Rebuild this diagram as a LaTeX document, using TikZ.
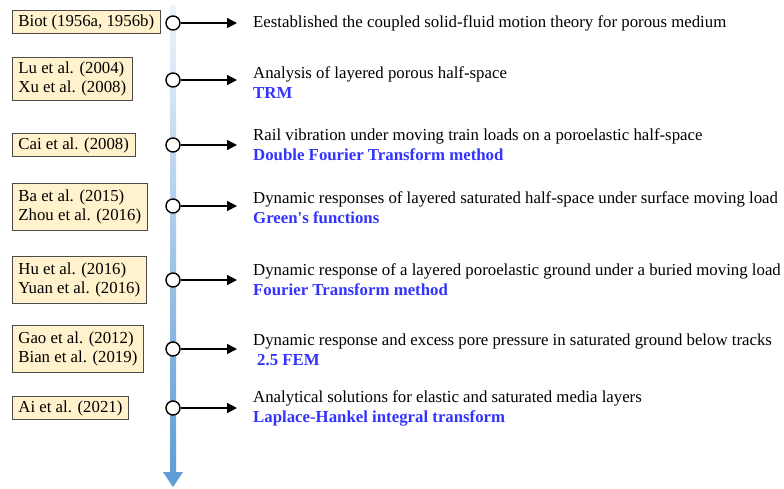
\documentclass[tikz,border=0pt]{standalone}
\usepackage{fontspec}
\setmainfont{Liberation Serif}
\newfontfamily\rawserif{Liberation Serif}
\usetikzlibrary{arrows.meta}
\definecolor{boxfill}{HTML}{FFF2CC}
\definecolor{methblue}{RGB}{51,51,255}
\definecolor{axtop}{HTML}{EEF4FB}
\definecolor{axbot}{HTML}{5B9BD5}
\begin{document}
\begin{tikzpicture}[x=1pt,y=-1pt,
  refbox/.style={draw=black!70, fill=boxfill, line width=0.8pt, anchor=west, align=left,
    inner xsep=6pt, inner ysep=4pt, font=\fontsize{16.8}{19.5}\selectfont},
  dot/.style={circle, draw=black, fill=white, line width=1.4pt, minimum size=14pt, inner sep=0pt},
  desc/.style={anchor=west, align=left, inner sep=0pt, font=\fontsize{16.8}{20}\selectfont},
  link/.style={-{Triangle[length=10pt,width=10pt]}, line width=1.4pt, shorten >=16pt}]
\useasboundingbox (0,0) rectangle (784,488);
% timeline axis
\shade[top color=axtop, bottom color=axbot]
  (170,5) -- (176,5) -- (176,472) -- (183,472) -- (173,487) -- (163,472) -- (170,472) -- cycle;

% reference boxes
\node[refbox] (b1) at (12,22) {Biot (1956a, 1956b)};
\node[refbox, minimum height=42pt] (b2) at (12,79) {Lu et al. (2004)\\Xu et al. (2008)};
\node[refbox] (b3) at (12,145) {Cai et al. (2008)};
\node[refbox, minimum height=47pt] (b4) at (12,207) {Ba et al. (2015)\\Zhou et al. (2016)};
\node[refbox, minimum height=47pt] (b5) at (12,280) {Hu et al. (2016)\\Yuan et al. (2016)};
\node[refbox, minimum height=47pt] (b6) at (12,349) {Gao et al. (2012)\\Bian et al. (2019)};
\node[refbox] (b7) at (12,408) {Ai et al. (2021)};

% dots on the axis
\node[dot] (d1) at (173,23) {};
\node[dot] (d2) at (173,80) {};
\node[dot] (d3) at (173,145) {};
\node[dot] (d4) at (173,206) {};
\node[dot] (d5) at (173,280) {};
\node[dot] (d6) at (173,349) {};
\node[dot] (d7) at (173,408) {};

% descriptions
\node[desc] (t1) at (253,23) {Eestablished the coupled solid-fluid motion theory for porous medium};
\node[desc] (t2) at (253,83) {Analysis of layered porous half-space\\\textcolor{methblue}{\textbf{TRM}}};
\node[desc] (t3) at (253,145) {Rail vibration under moving train loads on a poroelastic half-space\\\textcolor{methblue}{\textbf{Double Fourier Transform method}}};
\node[desc] (t4) at (253,208) {Dynamic responses of layered saturated half-space under surface moving load\\\textcolor{methblue}{\textbf{Green{\rawserif'}s functions}}};
\node[desc] (t5) at (253,280) {Dynamic response of a layered poroelastic ground under a buried moving load\\\textcolor{methblue}{\textbf{Fourier Transform method}}};
\node[desc] (t6) at (253,350) {Dynamic response and excess pore pressure in saturated ground below tracks\\\hspace*{4pt}\textcolor{methblue}{\textbf{2.5 FEM}}};
\node[desc] (t7) at (253,408) {Analytical solutions for elastic and saturated media layers\\\textcolor{methblue}{\textbf{Laplace-Hankel integral transform}}};

% connectors
\draw[link] (d1) -- (d1 -| t1.west);
\draw[link] (d2) -- (d2 -| t2.west);
\draw[link] (d3) -- (d3 -| t3.west);
\draw[link] (d4) -- (d4 -| t4.west);
\draw[link] (d5) -- (d5 -| t5.west);
\draw[link] (d6) -- (d6 -| t6.west);
\draw[link] (d7) -- (d7 -| t7.west);
\end{tikzpicture}
\end{document}
